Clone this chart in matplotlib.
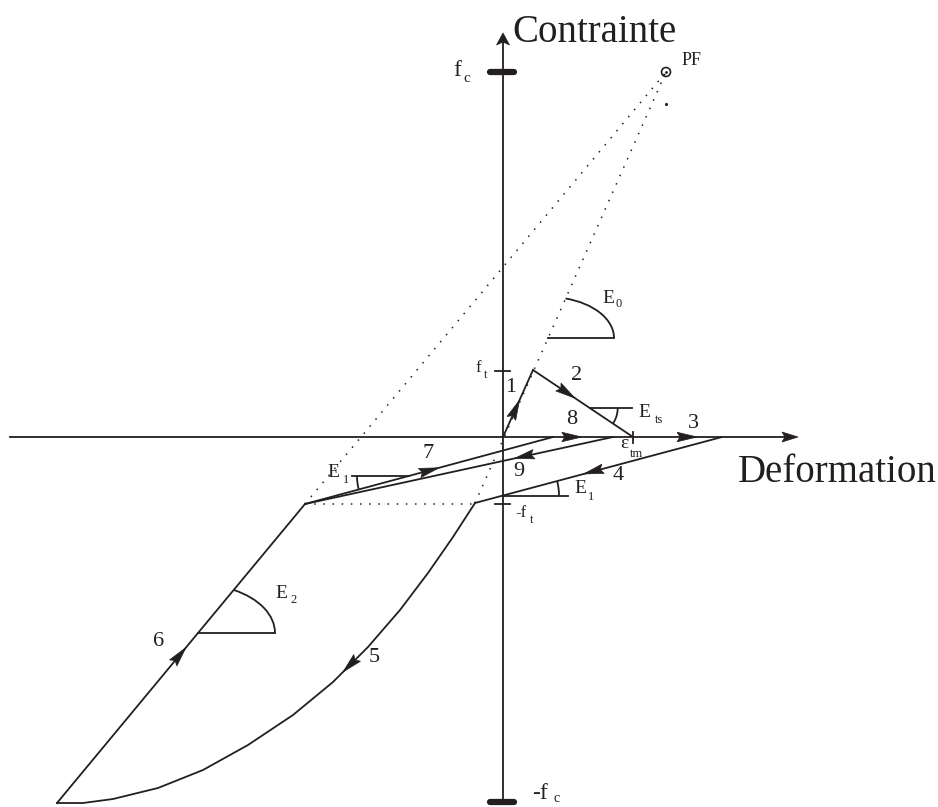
import numpy as np
import matplotlib
matplotlib.use('Agg')
import matplotlib.pyplot as plt
from matplotlib.patches import Polygon, Arc, Circle

# ---------------- data (strain, stress) in schematic units ----------------
fc = 365            # compressive strength level
ft = 67             # tensile strength level
origin = (0, 0)
peak = (30, 67)             # end of branch 1
eps_tm = (130, 0)           # end of softening branch 2
eps_3 = (219, 0)            # end of branch 3
P4 = (-28, -66)             # end of unloading branch 4
curve5_x = [-28, -50, -75, -103, -135, -170, -210, -255, -300, -345, -390, -420, -446]
curve5_y = [-66, -100, -136, -173, -210, -245, -278, -308, -333, -351, -362, -366, -366]
P6 = (-198, -67)            # end of reloading branch 6
end7 = (50, 0)              # branch 7 reaches the strain axis
start9 = (110, 0)           # branch 9 leaves the strain axis
PF = (163, 365)             # focal point
stray_dot = (163, 333)

ink = '#231f20'
serif = ['Liberation Serif', 'DejaVu Serif']

fig = plt.figure(figsize=(9.38, 8.07), dpi=100)
ax = fig.add_axes([0, 0, 1, 1])
ax.set_xlim(-503, 435)
ax.set_ylim(-370, 437)
ax.set_aspect('equal')
ax.axis('off')

LW = 1.3


def head(tip, frm, L=20, W=9.5, color=ink):
    tip = np.asarray(tip, float)
    d = tip - np.asarray(frm, float)
    d /= np.hypot(*d)
    n = np.array([-d[1], d[0]])
    base = tip - L * d
    pts = [tip, base + n * W / 2, base + d * 3, base - n * W / 2]
    ax.add_patch(Polygon(pts, closed=True, fc=color, ec=color, lw=0.5, zorder=5))


def seg_head(a, b, frac, **kw):
    a = np.asarray(a, float); b = np.asarray(b, float)
    tip = a + frac * (b - a)
    head(tip, a, **kw)


# axes
ax.plot([-493, 290], [0, 0], color=ink, lw=LW)
head((295, 0), (0, 0), L=16, W=10)
ax.plot([0, 0], [-366, 398], color=ink, lw=LW)
head((0, 404), (0, 0), L=12, W=13)

# strength bars
ax.plot([-13, 11], [fc, fc], color=ink, lw=4.5, solid_capstyle='round')
ax.plot([-13, 11], [-fc, -fc], color=ink, lw=4.5, solid_capstyle='round')
# tensile ticks
ax.plot([-8, 7], [ft - 1, ft - 1], color=ink, lw=LW)
ax.plot([-8, 7], [-ft, -ft], color=ink, lw=LW)
# eps_tm tick
ax.plot([eps_tm[0], eps_tm[0]], [-6, 5], color=ink, lw=LW)

# dotted construction lines
dots = (0, (1, 5))
ax.plot([P6[0], PF[0]], [P6[1], PF[1]], color=ink, lw=1.1, ls=dots)
ax.plot([P4[0], PF[0]], [P4[1], PF[1]], color=ink, lw=1.1, ls=dots)
ax.plot([P6[0], P4[0]], [P6[1], P4[1] - 1], color=ink, lw=1.1, ls=dots)
ax.add_patch(Circle(PF, 4.5, fill=False, ec=ink, lw=1.2))
ax.plot([PF[0]], [PF[1]], marker='.', ms=2, color=ink)
ax.plot([stray_dot[0]], [stray_dot[1]], marker='.', ms=2.5, color=ink)

# loading path
ax.plot([origin[0], peak[0]], [origin[1], peak[1]], color=ink, lw=LW)
ax.plot([peak[0], eps_tm[0]], [peak[1], eps_tm[1]], color=ink, lw=LW)
ax.plot([eps_3[0], P4[0]], [eps_3[1], P4[1]], color=ink, lw=LW)
ax.plot(curve5_x, curve5_y, color=ink, lw=LW, solid_joinstyle='round')
ax.plot([curve5_x[-1], P6[0]], [curve5_y[-1], P6[1]], color=ink, lw=LW)
ax.plot([P6[0], end7[0]], [P6[1], end7[1]], color=ink, lw=LW)
ax.plot([start9[0], P6[0]], [start9[1], P6[1]], color=ink, lw=LW)

# arrow heads
seg_head(origin, peak, 0.55)
seg_head(peak, eps_tm, 0.42)
seg_head(eps_tm, eps_3, 0.72)
seg_head(eps_3, P4, 0.56)
seg_head((curve5_x[-1], curve5_y[-1]), P6, 0.52)
seg_head(P6, end7, 0.54)
seg_head(end7, start9, 0.48)
seg_head(start9, P6, 0.32)
# arrow on curve 5
cx = np.array(curve5_x, float); cy = np.array(curve5_y, float)
s = np.concatenate([[0], np.cumsum(np.hypot(np.diff(cx), np.diff(cy)))])
st = 0.40 * s[-1]
i = np.searchsorted(s, st) - 1
t = (st - s[i]) / (s[i + 1] - s[i])
tip5 = (cx[i] + t * (cx[i + 1] - cx[i]), cy[i] + t * (cy[i + 1] - cy[i]))
head(tip5, (cx[i], cy[i]))

# angle markers
def ang(center, r_x, r_y, th1, th2, hx_end):
    ax.plot([center[0], hx_end], [center[1], center[1]], color=ink, lw=LW)
    ax.add_patch(Arc(center, 2 * r_x, 2 * r_y, theta1=th1, theta2=th2, color=ink, lw=LW))

ang_E0 = np.degrees(np.arctan2(PF[1] - P4[1], PF[0] - P4[0]))
ang((45, 99), 66, 41, 0, ang_E0, 111)
ang_ts = np.degrees(np.arctan2(eps_tm[1] - peak[1], eps_tm[0] - peak[0]))
ang((86.7, 29), 28, 28, ang_ts, 0, 129)
ang_E1 = np.degrees(np.arctan2(eps_3[1] - P4[1], eps_3[0] - P4[0]))
ang((0, -58.5), 56, 56, 0, ang_E1, 65)
ang_7 = np.degrees(np.arctan2(end7[1] - P6[1], end7[0] - P6[0]))
ax.plot([-151, -94], [-39, -39], color=ink, lw=LW)
ax.add_patch(Arc((-94, -39), 104, 104, theta1=180, theta2=180 + ang_7, color=ink, lw=LW))
ang_6 = np.degrees(np.arctan2(P6[1] - curve5_y[-1], P6[0] - curve5_x[-1]))
ang((-305, -196), 77, 48.6, 0, ang_6, -228)

# texts
def lab(x, y, main, sub=None, sx=0, sy=0, size=14, ssize=9.5, ha='left', va='baseline'):
    ax.text(x, y, main, fontsize=size, family=serif, color=ink, ha=ha, va=va)
    if sub:
        ax.text(x + sx, y + sy, sub, fontsize=ssize, family=serif, color=ink, ha='left', va='baseline')

ax.text(9, 395, 'Contrainte', fontsize=28, family=serif, color=ink, ha='left', va='baseline')
ax.text(235, -45, 'Deformation', fontsize=28, family=serif, color=ink, ha='left', va='baseline')
lab(-50, 361, 'f', 'c', sx=10, sy=-6, size=17, ssize=11)
lab(29, -362, '-f', 'c', sx=21, sy=-3, size=17, ssize=10)
lab(-28, 65, 'f', 't', sx=9, sy=-6, size=12, ssize=9)
lab(12, -80, '-f', 't', sx=15, sy=-6, size=12, ssize=9)
ax.text(179, 372, 'PF', fontsize=13, family=serif, color=ink, ha='left', va='baseline')
lab(99, 134, 'E', '0', sx=13, sy=-4, size=14, ssize=9)
lab(135, 20, 'E', 'ts', sx=17, sy=-6, size=14, ssize=9)
lab(117, -11, 'ε', 'tm', sx=10, sy=-9, size=14, ssize=9)
lab(71, -56, 'E', '1', sx=14, sy=-7, size=14, ssize=9)
lab(-176, -40, 'E', '1', sx=16, sy=-6, size=14, ssize=9)
lab(-228, -161, 'E', '2', sx=15, sy=-5, size=14, ssize=9)

for txt, (x, y) in zip(['1', '2', '3', '4', '5', '6', '7', '8', '9'],
                       [(8, 49), (74, 61), (190, 14), (115, -39), (-129, -221),
                        (-344, -204), (-75, -17), (69, 17), (16, -34)]):
    ax.text(x, y, txt, fontsize=16, family=serif, color=ink, ha='center', va='center')

fig.savefig('out.png', dpi=100)
